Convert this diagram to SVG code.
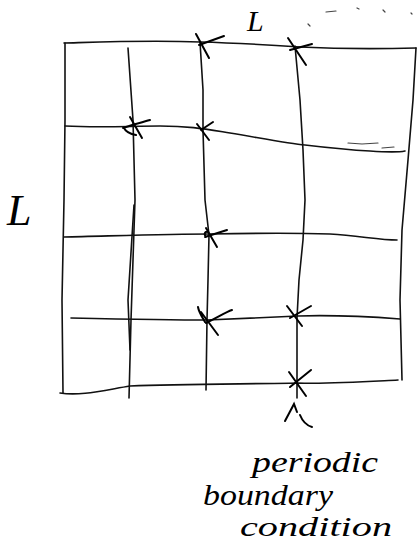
<svg xmlns="http://www.w3.org/2000/svg" width="418" height="551" viewBox="0 0 418 551">
<style>
.ln{fill:none;stroke:#111;stroke-width:1.6;stroke-linecap:round;stroke-linejoin:round}
.x{fill:none;stroke:#000;stroke-width:2;stroke-linecap:round}
.faint{fill:none;stroke:#444;stroke-width:1.2;stroke-linecap:round}
.hw{font-family:"Liberation Serif",serif;font-style:italic;fill:#000}
</style>
<rect width="418" height="551" fill="#fff"/>
<g id="connectors">
<!-- outer boundary -->
<path class="ln" d="M64,43 C100,42 150,40 200,42 C240,43 270,45 300,47 C340,49 380,49 416,48"/>
<path class="ln" d="M65,43 L65,120 L64,200 L62,300 L63,393"/>
<path class="ln" d="M416,48 L413,100 L408,160 L402,230 L400,300 L402,380"/>
<path class="ln" d="M60,393 C80,396 100,391 130,386 C180,384 250,384 298,383 C330,384 360,382 398,380"/>
<!-- horizontals -->
<path class="ln" d="M65,126 C100,128 130,126 160,126 C190,126 205,129 230,133 C260,138 290,144 305,145 C330,148 350,150 370,151 C385,152 400,152 405,151"/>
<path class="ln" d="M64,237 C110,236 170,234 210,234 C260,233 300,233 330,234 C360,236 380,240 397,240"/>
<path class="ln" d="M71,318 C120,319 170,320 207,320 C250,318 280,317 298,316 C330,315 360,316 400,319"/>
<!-- verticals -->
<path class="ln" d="M128,48 L133,120 L135,200 L133,260 L131,320 L129,398"/>
<path class="ln" d="M134,205 L128,300 L130,350"/>
<path class="ln" d="M200,42 L203,90 L203,130 L205,200 L209,235 L208,280 L207,320 L206,390"/>
<path class="ln" d="M295,46 L300,100 L303,150 L305,200 L303,240 L299,280 L297,318 L297,398"/>
<!-- x marks -->
<path class="x" d="M196,34 L209,58 M199,45 L224,36"/>
<path class="x" d="M288,38 L306,65 M290,50 L312,44"/>
<path class="x" d="M130,117 L142,138 M123,128 C128,126 140,123 150,120 M124,128 C126,132 130,134 136,135"/>
<path class="x" d="M197,124 L209,140 M201,130 L213,122"/>
<path class="x" d="M206,228 L217,247 M205,237 L227,230 M206,237 C203,233 206,231 208,232"/>
<path class="x" d="M201,312 L218,335 M206,323 C220,316 226,312 232,310 M205,322 C203,318 199,313 198,307"/>
<path class="x" d="M287,306 L302,326 M290,318 L311,306"/>
<path class="x" d="M289,372 L306,396 M290,387 L311,370"/>
<!-- arrow -->
<path class="x" d="M285,421 L294,404 L297,412 M300,415 C302,420 305,425 312,427"/>
<!-- faint marks -->
<path class="faint" d="M326,12 L336,11 M357,8 L359,9 M383,10 L385,12 M411,13 L412,14 M308,24 L310,26 M348,143 L362,144 L378,143 M382,148 L394,147"/>
</g>
<g id="labels">
<text class="hw" x="247" y="31" font-size="30">L</text>
<text class="hw" x="7" y="225" font-size="44">L</text>
<text class="hw" x="252" y="472" font-size="30" textLength="126" lengthAdjust="spacingAndGlyphs">periodic</text>
<text class="hw" x="203" y="505" font-size="30" textLength="130" lengthAdjust="spacingAndGlyphs">boundary</text>
<text class="hw" x="240" y="536" font-size="28" textLength="152" lengthAdjust="spacingAndGlyphs">condition</text>
</g>
</svg>
